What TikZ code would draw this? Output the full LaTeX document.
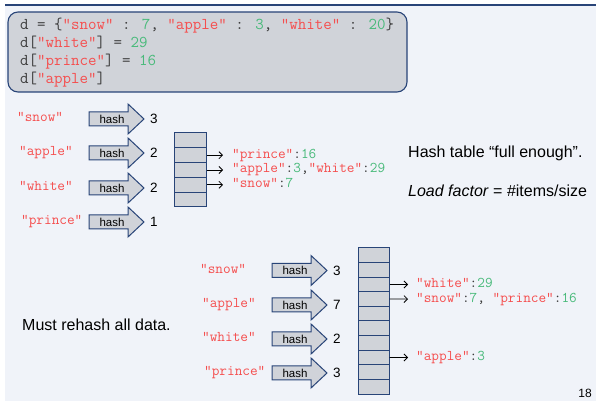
\documentclass[tikz,border=0pt]{standalone}
\usepackage{fontspec}
\setmainfont{Liberation Sans}
\usetikzlibrary{arrows.meta}
\definecolor{slidebg}{RGB}{240,243,249}
\definecolor{navy}{RGB}{40,68,120}
\definecolor{boxgray}{RGB}{208,211,217}
\definecolor{strred}{RGB}{245,78,78}
\definecolor{numgreen}{RGB}{72,186,122}
\definecolor{codegray}{RGB}{60,60,60}
\newcommand\rs[1]{\textcolor{strred}{“#1”}}
\newcommand\gn[1]{\textcolor{numgreen}{#1}}
\newcommand\hasharrow[3]{%
  \draw[hashshape] (#2,#3-7) -- (#2+39,#3-7) -- (#2+39,#3-15) -- (#2+55,#3) -- (#2+39,#3+15) -- (#2+39,#3+7) -- (#2,#3+7) -- cycle;
  \node[hashlabel] (#1) at (#2+23,#3) {hash};}
\tikzset{
  hashshape/.style={draw=navy, fill=boxgray, line width=1pt, line join=miter},
  hashlabel/.style={font=\fontsize{11.5}{12}\selectfont, text=black, inner sep=0pt},
  keytext/.style={font=\ttfamily\fontsize{14.85}{16}\selectfont, text=strred, anchor=west, inner sep=0pt, text height=9pt, text depth=3pt},
  entrytext/.style={font=\ttfamily\fontsize{14.85}{16}\selectfont, text=codegray, anchor=west, inner sep=0pt, text height=9pt, text depth=3pt},
  numtext/.style={font=\fontsize{13.5}{14}\selectfont, anchor=west, inner sep=0pt, text height=9.6pt, text depth=0pt},
  codeline/.style={font=\ttfamily\fontsize{16.5}{18}\selectfont, text=codegray, anchor=base west, inner sep=0pt},
  sanstext/.style={font=\fontsize{16}{18}\selectfont, anchor=west, inner sep=0pt, text height=11.5pt, text depth=0pt},
  cellbox/.style={draw=navy, fill=boxgray, line width=1pt, inner sep=0pt},
  ptr/.style={draw=black, line width=0.8pt, -{Straight Barb[length=3.5pt,width=7pt]}},
}
\begin{document}
\begin{tikzpicture}[x=1pt, y=-1pt]
\useasboundingbox (0,0) rectangle (600,403);
\fill[white] (0,0) rectangle (600,403);
\fill[slidebg] (5,5) rectangle (596,401);
\draw[navy, line width=1.6pt] (5,5) -- (596,5);

% code box
\node[draw=navy, fill=boxgray, line width=1.1pt, rounded corners=10pt, minimum width=399pt, minimum height=80pt, inner sep=0pt] (code) at (207.5,52) {};
\node[codeline] (c1) at (20,29.5) {d = \{\rs{snow} : \gn{7}, \rs{apple} : \gn{3}, \rs{white} : \gn{20}\}};
\node[codeline] (c2) at (20,47.5) {d[\rs{white}] = \gn{29}};
\node[codeline] (c3) at (20,65.5) {d[\rs{prince}] = \gn{16}};
\node[codeline] (c4) at (20,83.5) {d[\rs{apple}]};

% top hashing
\node[keytext] (ka) at (17,119) {“snow”};
\node[keytext] (kb) at (19,153) {“apple”};
\node[keytext] (kc) at (19,188) {“white”};
\node[keytext] (kd) at (21,222) {“prince”};
\hasharrow{ha}{89}{119}
\hasharrow{hb}{89}{153}
\hasharrow{hc}{89}{188}
\hasharrow{hd}{89}{222}
\node[numtext] (na) at (150,119) {3};
\node[numtext] (nb) at (150,153) {2};
\node[numtext] (nc) at (150,188) {2};
\node[numtext] (nd) at (150,222) {1};

% small table
\foreach \i in {1,...,5} {
  \node[cellbox, minimum width=32pt, minimum height=14.8pt] (s\i) at (190,{133+(\i-0.5)*14.8}) {};
}
\node[entrytext] (e1) at (232,155.2) {\rs{prince}:\gn{16}};
\node[entrytext] (e2) at (232,170) {\rs{apple}:\gn{3},\rs{white}:\gn{29}};
\node[entrytext] (e3) at (232,184.8) {\rs{snow}:\gn{7}};
\draw[ptr] (s2.east) -- ([xshift=-9pt]e1.west);
\draw[ptr] (s3.east) -- ([xshift=-9pt]e2.west);
\draw[ptr] (s4.east) -- ([xshift=-9pt]e3.west);

\node[sanstext] (full) at (408,152) {Hash table “full enough”.};
\node[sanstext] (load) at (408,191) {\textit{Load factor} = \#items/size};

% lower hashing
\node[sanstext] (must) at (22,325) {Must rehash all data.};
\node[keytext] (la) at (200,270.5) {“snow”};
\node[keytext] (lb) at (202,305) {“apple”};
\node[keytext] (lc) at (202,339) {“white”};
\node[keytext] (ld) at (204,373) {“prince”};
\hasharrow{hla}{272}{270.5}
\hasharrow{hlb}{272}{305}
\hasharrow{hlc}{272}{339}
\hasharrow{hld}{272}{373}
\node[numtext] (ma) at (333,270.5) {3};
\node[numtext] (mb) at (333,305) {7};
\node[numtext] (mc) at (333,339) {2};
\node[numtext] (md) at (333,373) {3};

% large table
\foreach \i in {1,...,10} {
  \node[cellbox, minimum width=31pt, minimum height=14.6pt] (b\i) at (373.5,{248+(\i-0.5)*14.6}) {};
}
\node[entrytext] (f1) at (416,284.5) {\rs{white}:\gn{29}};
\node[entrytext] (f2) at (416,299.1) {\rs{snow}:\gn{7}, \rs{prince}:\gn{16}};
\node[entrytext] (f3) at (416,357.5) {\rs{apple}:\gn{3}};
\draw[ptr] (b3.east) -- ([xshift=-8pt]f1.west);
\draw[ptr] (b4.east) -- ([xshift=-8pt]f2.west);
\draw[ptr] (b8.east) -- ([xshift=-8pt]f3.west);

\node[font=\fontsize{12}{13}\selectfont, inner sep=0pt] (pg) at (585,393) {18};
\end{tikzpicture}
\end{document}
